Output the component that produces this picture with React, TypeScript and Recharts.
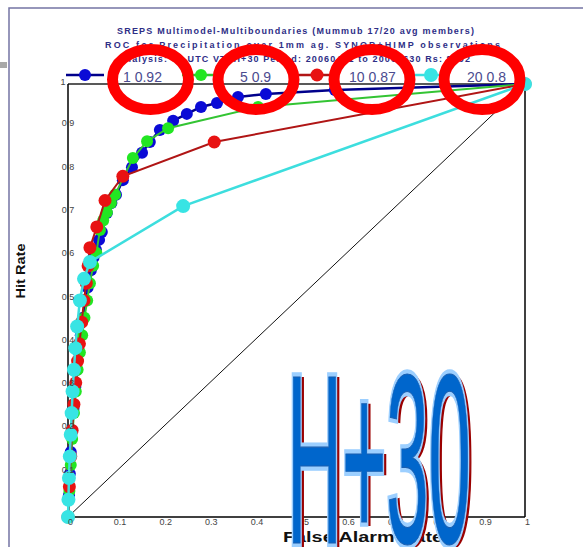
import { ReferenceLine, Scatter, ScatterChart, XAxis, YAxis } from 'recharts';

// ensemble sizes and ROC areas shown in the legend
const members = [1, 5, 10, 20];
const areas = [0.92, 0.9, 0.87, 0.8];

const blueFar = [0, 0.002, 0.004, 0.006, 0.009, 0.012, 0.016, 0.02, 0.024, 0.028, 0.033, 0.038, 0.043, 0.05, 0.056, 0.061, 0.068, 0.074, 0.085, 0.095, 0.105, 0.12, 0.14, 0.162, 0.179, 0.201, 0.23, 0.26, 0.291, 0.326, 0.372, 0.433, 0.584, 1];
const blueHit = [0, 0.05, 0.1, 0.15, 0.2, 0.25, 0.3, 0.34, 0.38, 0.42, 0.46, 0.5, 0.53, 0.57, 0.6, 0.617, 0.64, 0.658, 0.702, 0.725, 0.744, 0.778, 0.808, 0.841, 0.866, 0.894, 0.915, 0.931, 0.947, 0.956, 0.97, 0.977, 0.986, 1];

const greenFar = [0, 0.003, 0.006, 0.009, 0.013, 0.017, 0.021, 0.026, 0.031, 0.036, 0.042, 0.048, 0.055, 0.062, 0.07, 0.077, 0.085, 0.094, 0.103, 0.142, 0.173, 0.219, 0.416, 1];
const greenHit = [0, 0.06, 0.12, 0.18, 0.24, 0.29, 0.34, 0.38, 0.42, 0.46, 0.5, 0.54, 0.58, 0.61, 0.663, 0.685, 0.704, 0.725, 0.744, 0.829, 0.868, 0.898, 0.947, 1];

const redFar = [0, 0.003, 0.006, 0.009, 0.013, 0.017, 0.021, 0.025, 0.03, 0.035, 0.04, 0.044, 0.048, 0.063, 0.081, 0.12, 0.32, 1];
const redHit = [0, 0.07, 0.14, 0.2, 0.26, 0.31, 0.36, 0.4, 0.45, 0.5, 0.54, 0.58, 0.622, 0.67, 0.731, 0.787, 0.866, 1];

const cyanFar = [0, 0.001, 0.002, 0.004, 0.006, 0.008, 0.01, 0.013, 0.016, 0.02, 0.026, 0.035, 0.048, 0.252, 1];
const cyanHit = [0, 0.04, 0.09, 0.14, 0.19, 0.24, 0.29, 0.34, 0.39, 0.44, 0.5, 0.55, 0.589, 0.718, 1];

const xTicks = [0, 0.1, 0.2, 0.3, 0.4, 0.5, 0.6, 0.7, 0.8, 0.9, 1];
const yTicks = [0.1, 0.2, 0.3, 0.4, 0.5, 0.6, 0.7, 0.8, 0.9, 1];

const toPoints = (far: number[], hit: number[]) => far.map((x, i) => ({ x, y: hit[i] }));

const series = [
  { data: toPoints(blueFar, blueHit), line: '#00008b', dot: '#0a0ad6', r: 6, w: 2.5 },
  { data: toPoints(greenFar, greenHit), line: '#33c433', dot: '#22e622', r: 6, w: 2 },
  { data: toPoints(redFar, redHit), line: '#b01515', dot: '#e81212', r: 6.5, w: 2 },
  { data: toPoints(cyanFar, cyanHit), line: '#3ddede', dot: '#38e4e4', r: 7, w: 2.5 },
];

const FONT = '"Liberation Sans", Arial, sans-serif';

const XTick = (props: any) => {
  const { x, y, payload } = props;
  return (
    <text x={x} y={y + 8} fontSize={9} fill="#444" fontFamily={FONT}>
      {payload.value}
    </text>
  );
};

const YTick = (props: any) => {
  const { x, y, payload } = props;
  const top = payload.value === 1;
  return (
    <text x={top ? x - 5 : x} y={top ? y + 1 : y - 1} fontSize={9} fill="#444" textAnchor="middle" fontFamily={FONT}>
      {payload.value}
    </text>
  );
};

const legendLineX = [66, 182, 298, 412];
const legendTextX = [123, 240, 349, 467];
const circleX = [150.5, 256, 372, 482];

export default function App() {
  return (
    <div style={{ position: 'absolute', left: 0, top: 0, width: 583, height: 547, background: '#fff' }}>
      <ScatterChart width={583} height={547} margin={{ top: 84, right: 58, bottom: 0, left: 8 }}>
        <XAxis
          type="number"
          dataKey="x"
          domain={[0, 1]}
          ticks={xTicks}
          interval={0}
          height={30}
          tickSize={0}
          tickMargin={0}
          tickLine={false}
          axisLine={{ stroke: '#000', strokeWidth: 1.5 }}
          tick={XTick}
        />
        <YAxis
          type="number"
          dataKey="y"
          domain={[0, 1]}
          ticks={yTicks}
          interval={0}
          width={60}
          tickSize={0}
          tickMargin={0}
          tickLine={false}
          axisLine={{ stroke: '#000', strokeWidth: 1.5 }}
          tick={YTick}
        />
        <ReferenceLine y={1} stroke="#222" strokeWidth={1.5} />
        <ReferenceLine x={1} stroke="#000" strokeWidth={1.5} />
        <ReferenceLine segment={[{ x: 0, y: 0 }, { x: 1, y: 1 }]} stroke="#111" strokeWidth={1} />
        {series.map((s, i) => (
          <Scatter
            key={i}
            data={s.data}
            line={{ stroke: s.line, strokeWidth: s.w }}
            lineType="joint"
            isAnimationActive={false}
            shape={(p: any) => <circle cx={p.cx} cy={p.cy} r={s.r} fill={s.dot} />}
          />
        ))}
      </ScatterChart>

      <svg width={583} height={547} style={{ position: 'absolute', left: 0, top: 0 }} fontFamily={FONT}>
        <rect x={0} y={62} width={7} height={6} fill="#a8a8a8" />
        <path d="M9 547 V8 H583" stroke="#7474a4" strokeWidth={1.5} fill="none" />

        <g fontSize={9} fontWeight="bold" fill="#2e2e86">
          <text x={117} y={34} textLength={357} lengthAdjust="spacing">
            SREPS Multimodel-Multiboundaries  (Mummub 17/20 avg members)
          </text>
          <text x={105} y={48} textLength={395} lengthAdjust="spacing">
            ROC for Precipitation over 1mm ag. SYNOP+HIMP observations
          </text>
          <text x={118} y={62} textLength={352} lengthAdjust="spacing">
            Analysis: 00 UTC  VT: H+30  Period: 20060401 to 20060630  Rs: 8002
          </text>
        </g>

        {series.map((s, i) => (
          <g key={i}>
            <line x1={legendLineX[i]} x2={legendLineX[i] + 38} y1={75} y2={75} stroke={s.line} strokeWidth={2.5} />
            <circle cx={legendLineX[i] + 19} cy={75} r={s.r} fill={s.dot} />
            <text x={legendTextX[i]} y={82} fontSize={14} fill="#4b4b8f">
              {`${members[i]} ${areas[i]}`}
            </text>
          </g>
        ))}

        <text
          x={25}
          y={271}
          transform="rotate(-90 25 271)"
          textAnchor="middle"
          fontSize={13}
          fontWeight="bold"
          fill="#111"
          textLength={55}
          lengthAdjust="spacingAndGlyphs"
        >
          Hit Rate
        </text>
        <text x={283} y={542} fontSize={14} fontWeight="bold" fill="#111" textLength={160} lengthAdjust="spacingAndGlyphs">
          False Alarm Rate
        </text>

        {circleX.map((cx, i) => (
          <ellipse key={i} cx={cx} cy={79.5} rx={38} ry={30} fill="none" stroke="#ff0000" strokeWidth={11} />
        ))}

        <g transform="translate(287,543) scale(0.76,2.42)" fontSize={100}>
          <text x={4} y={1} fill="#9a0000" stroke="#9a0000" strokeWidth={3} vectorEffect="non-scaling-stroke">
            H+30
          </text>
          <text
            x={0}
            y={0}
            fill="#0066cc"
            stroke="#9ccfff"
            strokeWidth={7}
            paintOrder="stroke"
            vectorEffect="non-scaling-stroke"
          >
            H+30
          </text>
          <text x={0} y={0} fill="none" stroke="#1a5fb0" strokeWidth={0.8} vectorEffect="non-scaling-stroke">
            H+30
          </text>
        </g>
      </svg>
    </div>
  );
}
